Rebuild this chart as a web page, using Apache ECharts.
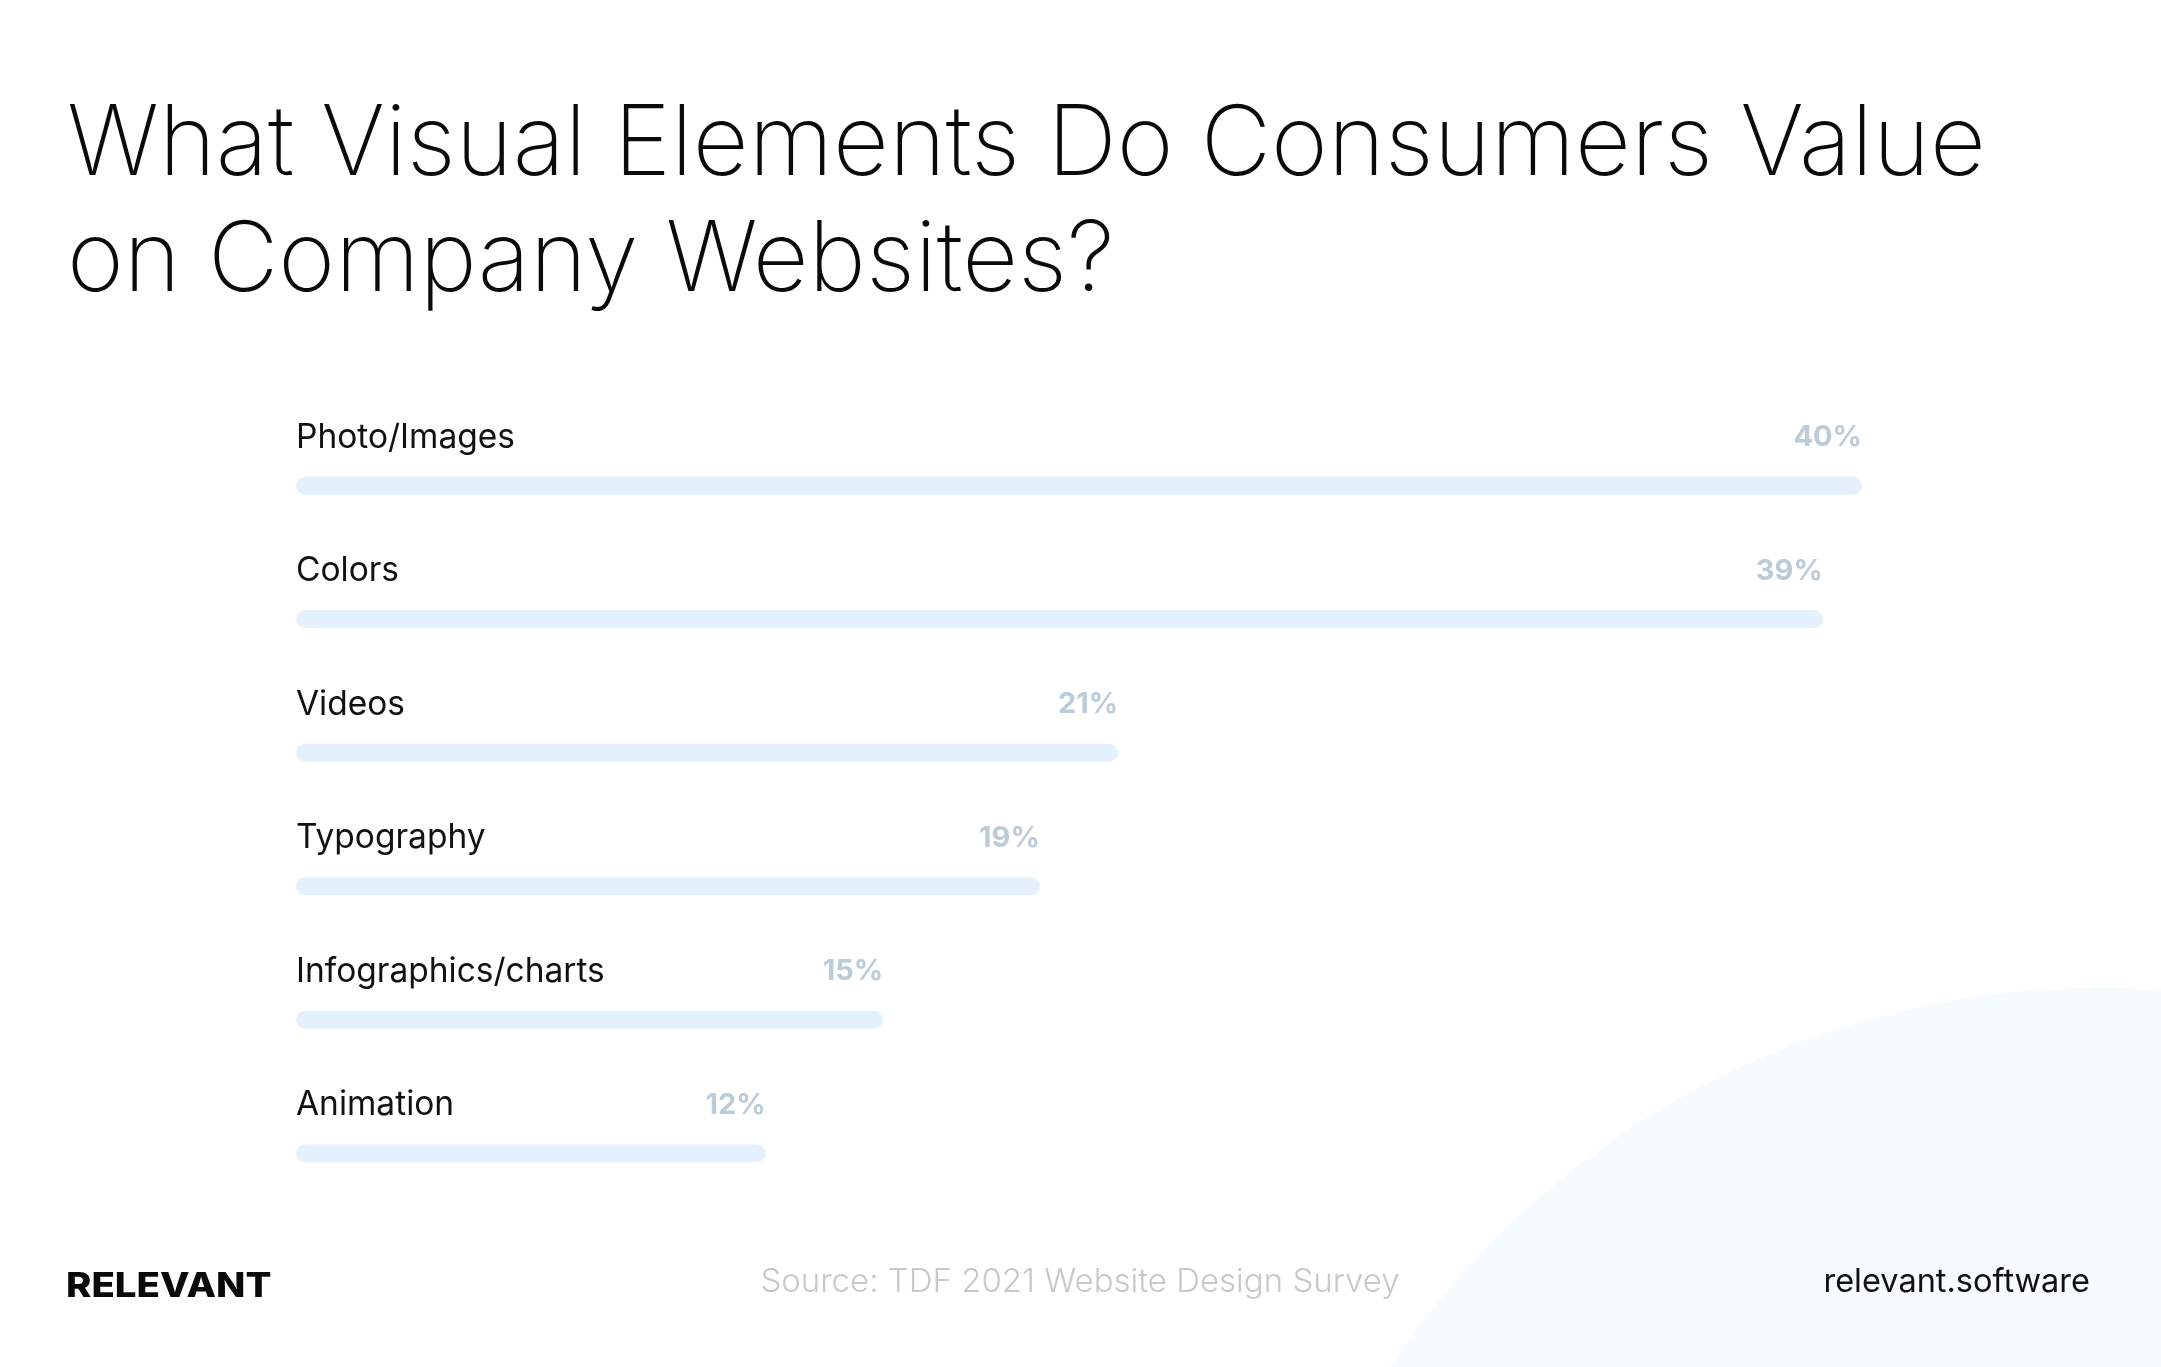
<!DOCTYPE html>
<html>
<head>
<meta charset="utf-8">
<script src="https://cdn.jsdelivr.net/npm/echarts@6/dist/echarts.min.js"></script>
<style>
  html, body { margin: 0; padding: 0; background: #ffffff; }
  #chart { width: 2161px; height: 1367px; }
</style>
</head>
<body>
<div id="chart"></div>
<script>
const titleLines = ["What Visual Elements Do Consumers Value", "on Company Websites?"];
const categories = ["Photo/Images", "Colors", "Videos", "Typography", "Infographics/charts", "Animation"];
const values = [40, 39, 21, 19, 15, 12];
const brandText = "RELEVANT";
const sourceText = "Source: TDF 2021 Website Design Survey";
const siteText = "relevant.software";

const FONT = "Inter, 'Noto Sans', sans-serif";
const chart = echarts.init(document.getElementById('chart'), null, { renderer: 'canvas' });

chart.setOption({
  backgroundColor: '#ffffff',
  animation: false,
  grid: { left: 296, right: 299, top: 419, bottom: 147, containLabel: false },
  xAxis: { type: 'value', min: 0, max: 40, show: false },
  yAxis: {
    type: 'category',
    data: categories,
    inverse: true,
    show: false
  },
  series: [
    {
      type: 'bar',
      data: values,
      barWidth: 18,
      z: 5,
      silent: true,
      itemStyle: { color: '#e4f1fc', borderRadius: 9 },
      label: {
        show: true,
        position: ['100%', -39],
        align: 'right',
        verticalAlign: 'middle',
        formatter: p => p.value + '%',
        fontFamily: FONT,
        fontSize: 29,
        fontWeight: 700,
        color: '#bccbd8'
      }
    },
    {
      type: 'bar',
      data: values,
      barWidth: 18,
      barGap: '-100%',
      z: 6,
      silent: true,
      itemStyle: { color: 'rgba(0,0,0,0)' },
      label: {
        show: true,
        position: [0, -39],
        align: 'left',
        verticalAlign: 'middle',
        formatter: '{b}',
        fontFamily: FONT,
        fontSize: 33.5,
        fontWeight: 400,
        color: '#111111'
      }
    }
  ],
  graphic: [
    { type: 'circle', z: -10, silent: true, shape: { cx: 2100, cy: 1842, r: 854 }, style: { fill: '#f6fbfd' } },
    { type: 'text', x: 67, y: 146, scaleX: 1.0, style: { text: titleLines[0], font: '250 97px ' + FONT, fill: '#0a0a0a', verticalAlign: 'middle' } },
    { type: 'text', x: 67, y: 262, scaleX: 1.0, style: { text: titleLines[1], font: '250 97px ' + FONT, fill: '#0a0a0a', verticalAlign: 'middle' } },
    { type: 'text', x: 66, y: 1287, scaleX: 1.13, style: { text: brandText, font: '800 34px ' + FONT, fill: '#0a0a0a', verticalAlign: 'middle' } },
    { type: 'text', x: 1080, y: 1282, style: { text: sourceText, font: '300 33px ' + FONT, fill: '#c6c9cc', align: 'center', verticalAlign: 'middle' } },
    { type: 'text', x: 2090, y: 1282, style: { text: siteText, font: '400 32.5px ' + FONT, fill: '#111111', align: 'right', verticalAlign: 'middle' } }
  ]
});
</script>
</body>
</html>
